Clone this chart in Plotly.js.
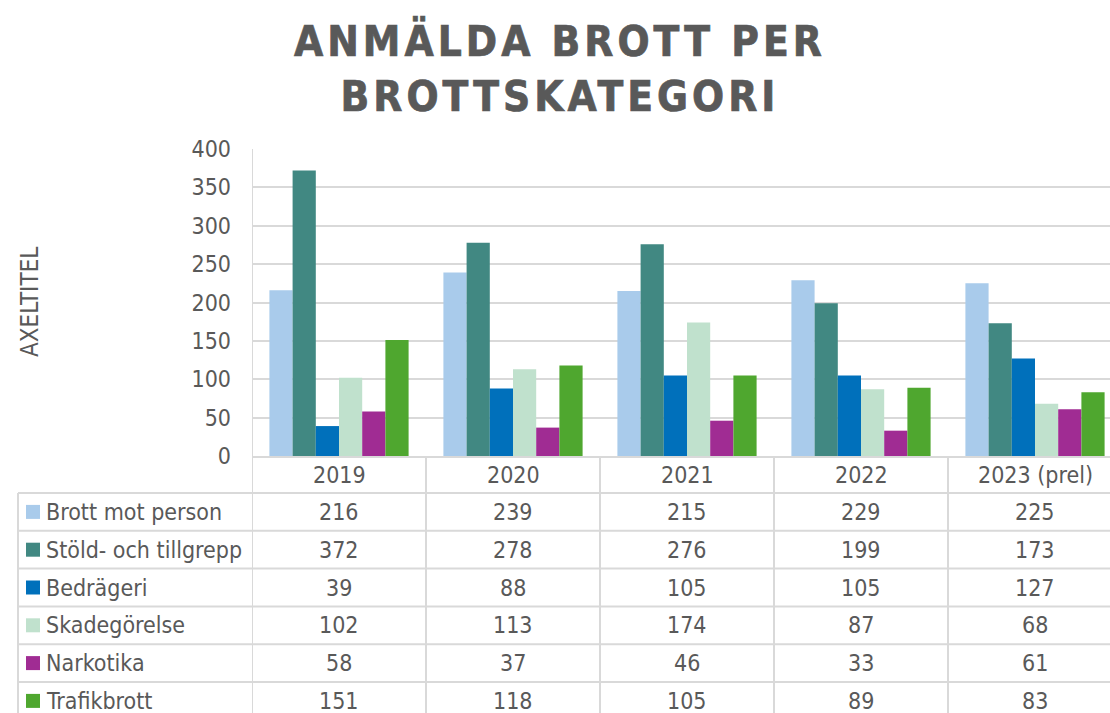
<!DOCTYPE html>
<html>
<head>
<meta charset="utf-8">
<script src="https://cdn.plot.ly/plotly-3.0.1.min.js"></script>
<style>
html, body { margin: 0; padding: 0; overflow: hidden; background: #fff; }
#chart { width: 1125px; height: 713px; }
.spaced { letter-spacing: 4px; stroke: #595959; stroke-width: 0.7px; }
</style>
</head>
<body>
<div id="chart"></div>
<script>
// ---- data ----
const years = ["2019", "2020", "2021", "2022", "2023 (prel)"];
const seriesNames = ["Brott mot person", "Stöld- och tillgrepp", "Bedrägeri", "Skadegörelse", "Narkotika", "Trafikbrott"];
const brottMotPerson = [216, 239, 215, 229, 225];
const stoldOchTillgrepp = [372, 278, 276, 199, 173];
const bedrageri = [39, 88, 105, 105, 127];
const skadegorelse = [102, 113, 174, 87, 68];
const narkotika = [58, 37, 46, 33, 61];
const trafikbrott = [151, 118, 105, 89, 83];
const seriesColors = ["#a9cbeb", "#418882", "#0070bb", "#c0e1cd", "#a02c93", "#4fa72f"];
const yTicks = [0, 50, 100, 150, 200, 250, 300, 350, 400];
const chartTitle = "ANMÄLDA BROTT PER<br>BROTTSKATEGORI";
const yTitle = "AXELTITEL";

const allSeries = [brottMotPerson, stoldOchTillgrepp, bedrageri, skadegorelse, narkotika, trafikbrott];

// ---- geometry (pixels) ----
const W = 1125, H = 713;
const mL = 252, mR = 3, mT = 149, mB = 257;
const plotW = W - mL - mR, plotH = H - mT - mB;
const px2paperX = p => (p - mL) / plotW;
const px2paperY = p => (H - mB - p) / plotH;

const FONT = "'DejaVu Sans Condensed', 'DejaVu Sans', Verdana, sans-serif";
const TXT = "#595959";
const LINE = "#d9d9d9";
const FS = 23;

const catIdx = years.map((_, i) => i);

const traces = allSeries.map((vals, i) => ({
  type: "bar",
  name: seriesNames[i],
  x: catIdx,
  y: vals,
  marker: { color: seriesColors[i] },
  hoverinfo: "y+name"
}));

// ---- data table below the plot ----
const shapes = [];
const annotations = [];
const headerTop = 456, headerBot = 493, rowH = 37.8;
const tableBottom = H + 5;

const hLines = [headerBot];
for (let r = 1; r <= seriesNames.length; r++) hLines.push(headerBot + r * rowH);
hLines.forEach(yp => {
  if (yp > H) return;
  shapes.push({ type: "line", xref: "paper", yref: "paper",
    x0: px2paperX(18), x1: 1.05, y0: px2paperY(yp), y1: px2paperY(yp),
    line: { color: LINE, width: 2 } });
});
shapes.push({ type: "line", xref: "paper", yref: "paper",
  x0: px2paperX(18), x1: px2paperX(18), y0: px2paperY(headerBot), y1: px2paperY(tableBottom),
  line: { color: LINE, width: 2 } });
for (let c = 0; c <= years.length; c++) {
  shapes.push({ type: "line", xref: "x", yref: "paper",
    x0: c - 0.5, x1: c - 0.5,
    y0: c === 0 ? 1 : 0, y1: px2paperY(tableBottom),
    line: { color: LINE, width: 2 } });
}

years.forEach((yr, c) => {
  annotations.push({ xref: "x", yref: "paper", x: c, y: px2paperY(474.5),
    text: yr, showarrow: false, xanchor: "center", yanchor: "middle",
    font: { family: FONT, size: FS, color: TXT } });
});
seriesNames.forEach((nm, r) => {
  const cy = headerBot + r * rowH + rowH / 2;
  shapes.push({ type: "rect", xref: "paper", yref: "paper",
    x0: px2paperX(26), x1: px2paperX(40), y0: px2paperY(cy - 7), y1: px2paperY(cy + 7),
    fillcolor: seriesColors[r], line: { width: 0 } });
  annotations.push({ xref: "paper", yref: "paper", x: px2paperX(44), y: px2paperY(cy),
    text: nm, showarrow: false, xanchor: "left", yanchor: "middle",
    font: { family: FONT, size: FS, color: TXT } });
  allSeries[r].forEach((v, c) => {
    annotations.push({ xref: "x", yref: "paper", x: c, y: px2paperY(cy),
      text: String(v), showarrow: false, xanchor: "center", yanchor: "middle",
      font: { family: FONT, size: FS, color: TXT } });
  });
});

// title
annotations.push({ xref: "paper", yref: "paper", x: px2paperX(560), y: px2paperY(14),
  text: chartTitle, showarrow: false, xanchor: "center", yanchor: "top", align: "center",
  font: { family: FONT, size: 42, color: TXT, weight: "bold" } });
// y axis title
annotations.push({ xref: "paper", yref: "paper", x: px2paperX(30), y: px2paperY(302),
  text: yTitle, showarrow: false, xanchor: "center", yanchor: "middle", textangle: -90,
  font: { family: FONT, size: 24, color: TXT } });

const layout = {
  width: W, height: H,
  margin: { l: mL, r: mR, t: mT, b: mB, pad: 0 },
  paper_bgcolor: "#ffffff",
  plot_bgcolor: "#ffffff",
  showlegend: false,
  barmode: "group",
  bargap: 0.2,
  bargroupgap: 0,
  xaxis: {
    type: "linear",
    range: [-0.5, years.length - 0.5],
    showticklabels: false,
    ticks: "",
    showgrid: false,
    showline: true, linecolor: LINE, linewidth: 2,
    zeroline: false,
    fixedrange: true
  },
  yaxis: {
    range: [0, 400],
    tickvals: yTicks,
    ticktext: yTicks.map(String),
    tickfont: { family: FONT, size: FS, color: TXT },
    ticks: "",
    ticklabelstandoff: 20,
    showgrid: true, gridcolor: LINE, gridwidth: 2,
    zeroline: false,
    showline: false,
    fixedrange: true
  },
  shapes: shapes,
  annotations: annotations
};

Plotly.newPlot("chart", traces, layout, { displayModeBar: false, staticPlot: true }).then(gd => {
  const anns = gd.querySelectorAll(".annotation-text");
  anns.forEach(t => { if (t.textContent.indexOf("ANMÄLDA") === 0) t.classList.add("spaced"); });
});
</script>
</body>
</html>
